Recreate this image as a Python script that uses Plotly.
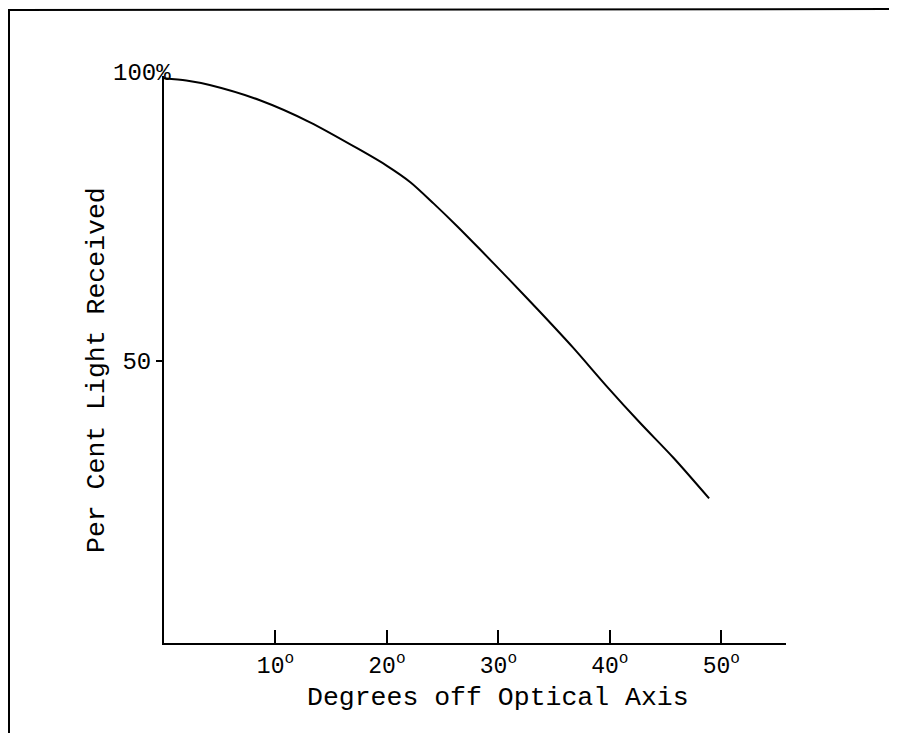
import plotly.graph_objects as go

# Data
degrees = [0, 2.0, 4.1, 8.6, 13.1, 17.6, 20.0, 22.1, 24.2, 26.3, 28.3, 31.0, 33.7, 36.7, 39.7, 42.7, 45.7, 48.9]
percent = [100, 99.6, 98.8, 96.1, 92.2, 87.3, 84.5, 81.6, 77.8, 73.8, 69.8, 64.3, 58.7, 52.3, 45.5, 39.0, 32.8, 25.6]

x_tickvals = [10, 20, 30, 40, 50]
x_ticktext = ["10<sup>o</sup>", "20<sup>o</sup>", "30<sup>o</sup>", "40<sup>o</sup>", "50<sup>o</sup>"]
y_tickvals = [50]
y_ticktext = ["50"]
y_top_value = 100
y_top_label = "100%"

x_title = "Degrees off Optical Axis"
y_title = "Per Cent Light Received"

FONT = "Liberation Mono, Courier New, monospace"

# page body has an 8px margin; figure is sized to fit the window
OFF = 8
W, H = 897 - OFF, 733 - OFF
L, R, T, B = 164 - OFF, 786 - OFF, 76 - OFF, 643 - OFF

fig = go.Figure()
fig.add_trace(go.Scatter(
    x=degrees, y=percent, mode="lines",
    line=dict(color="black", width=2, shape="spline", smoothing=0.8),
    hoverinfo="skip", showlegend=False,
))

fig.update_layout(
    width=W, height=H,
    margin=dict(l=L, r=W - R, t=T, b=H - B, autoexpand=False),
    paper_bgcolor="white", plot_bgcolor="white",
    font=dict(family=FONT, color="black", size=23),
    showlegend=False,
)

fig.update_xaxes(
    range=[0, 55.8], showgrid=False, zeroline=False,
    showline=True, linecolor="black", linewidth=2,
    tickmode="array", tickvals=x_tickvals, ticktext=x_ticktext,
    ticks="inside", ticklen=13, tickwidth=2, tickcolor="black",
    tickfont=dict(family=FONT, size=23, color="black"),
    automargin=False,
)
fig.update_yaxes(
    range=[0, 100.4], showgrid=False, zeroline=False,
    showline=True, linecolor="black", linewidth=2,
    tickmode="array", tickvals=y_tickvals, ticktext=y_ticktext,
    ticks="outside", ticklen=6, tickwidth=2, tickcolor="black",
    tickfont=dict(family=FONT, size=24, color="black"),
    automargin=False,
)

# top label of the y axis, overlapping the axis as in the typed original
fig.add_annotation(
    text=y_top_label, xref="x", yref="y", x=0, y=y_top_value,
    xanchor="right", yanchor="middle", xshift=9, yshift=5,
    showarrow=False, font=dict(family=FONT, size=24, color="black"),
)

pw, ph = R - L, B - T

def px_to_paper_x(px):
    return (px - OFF - L) / pw

def px_to_paper_y(py):
    return (B - (py - OFF)) / ph

# Axis titles
fig.add_annotation(
    text=x_title, xref="paper", yref="paper",
    x=px_to_paper_x(498), y=px_to_paper_y(698),
    xanchor="center", yanchor="middle", showarrow=False,
    font=dict(family=FONT, size=26.5, color="black"),
)
fig.add_annotation(
    text=y_title, xref="paper", yref="paper",
    x=px_to_paper_x(97), y=px_to_paper_y(370),
    xanchor="center", yanchor="middle", showarrow=False, textangle=-90,
    font=dict(family=FONT, size=26.5, color="black"),
)

# Page frame (left and top border of the scanned figure)
fig.add_shape(type="line", xref="paper", yref="paper",
              x0=px_to_paper_x(9), x1=px_to_paper_x(9),
              y0=px_to_paper_y(9), y1=px_to_paper_y(733),
              line=dict(color="black", width=2))
fig.add_shape(type="line", xref="paper", yref="paper",
              x0=px_to_paper_x(8), x1=px_to_paper_x(897),
              y0=px_to_paper_y(10), y1=px_to_paper_y(9),
              line=dict(color="black", width=2))

fig.write_html("out.html")
